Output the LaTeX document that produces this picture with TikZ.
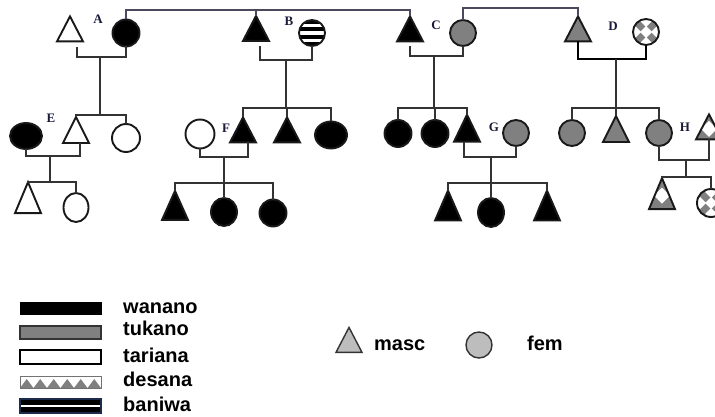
\documentclass[tikz,border=0pt]{standalone}
\usepackage{fontspec}
\setmainfont{Liberation Sans}
\newfontfamily\lblfont{Liberation Serif}
\usetikzlibrary{shapes.geometric,calc}
\definecolor{tukgray}{HTML}{808080}
\definecolor{lightg}{HTML}{BDBDBD}
\definecolor{lncol}{HTML}{333333}
\definecolor{topln}{HTML}{4A4A5C}
\definecolor{labcol}{HTML}{1A1A3A}
\definecolor{banblue}{HTML}{1C2B4A}
\begin{document}
\begin{tikzpicture}[x=1pt,y=-1pt,
  ln/.style={draw=lncol, line width=1.8pt},
  topl/.style={draw=topln, line width=1.8pt},
  sym/.style={draw=black!90, line width=1.9pt, inner sep=0pt, outer sep=0pt},
  fem/.style={sym, circle, minimum size=26pt},
  ell/.style={sym, ellipse},
  masc/.style={sym, isosceles triangle, isosceles triangle stretches,
    shape border rotate=90, minimum width=26pt, minimum height=#1},
  masc/.default=25pt,
  wan/.style={fill=black},
  tuk/.style={fill=tukgray},
  tar/.style={fill=white},
  desf/.style={fill=white, path picture={
    \fill[tukgray] (path picture bounding box.south west) rectangle (path picture bounding box.north east);
    \foreach \dx/\dy in {0/0,11/0,-11/0,0/11,0/-11}{
      \fill[white] ($(path picture bounding box.center)+(\dx pt,\dy pt)$)
        +(0pt,6pt) -- +(6pt,0pt) -- +(0pt,-6pt) -- +(-6pt,0pt) -- cycle;}}},
  desm/.style={fill=white, path picture={
    \fill[tukgray] (path picture bounding box.south west) rectangle (path picture bounding box.north east);
    \fill[white] ($(path picture bounding box.center)+(0pt,-2pt)$)
        +(0pt,8pt) -- +(8pt,0pt) -- +(0pt,-8pt) -- +(-8pt,0pt) -- cycle;}},
  ban/.style={fill=black, path picture={
    \foreach \s in {-7.4,0,7.4}{
      \fill[white] ($(path picture bounding box.center)+(-16pt,\s pt-1.85pt)$) rectangle ++(32pt,3.7pt);}}},
  lab/.style={font=\lblfont\bfseries\fontsize{13}{15}\selectfont, text=labcol, inner sep=0pt},
  bar/.style={minimum width=81pt, inner sep=0pt, outer sep=0pt},
  leg/.style={font=\bfseries\fontsize{20}{24}\selectfont, inner sep=0pt, anchor=base west},
]
\useasboundingbox (0,0) rectangle (715,417);

% ---------- first generation ----------
\node[masc,tar] (ah) at (70,33.5) {};
\node[fem,wan,minimum size=27pt] (a) at (126,33) {};
\node[masc,wan] (b) at (256,33) {};
\node[fem,ban] (bw) at (312,33) {};
\node[masc,wan] (c) at (410,33.5) {};
\node[fem,tuk] (cw) at (463,33) {};
\node[masc,tuk] (d) at (578,33.5) {};
\node[fem,desf] (dw) at (646,32) {};

\node[lab] (la) at (98,19) {A};
\node[lab] (lb) at (289,21) {B};
\node[lab] (lc) at (436,25) {C};
\node[lab] (ld) at (613,26) {D};

% sibling links between the couples
\coordinate (t1) at (0,10);
\coordinate (t2) at (0,8);
\draw[topl] (a.north) -- (a.north |- t1) -- (c.apex |- t1) -- (c.apex);
\draw[topl] (b.apex) -- (b.apex |- t1);
\draw[topl] (cw.north) -- (cw.north |- t2) -- (d.apex |- t2) -- (d.apex);

% ---------- second generation ----------
\node[ell,wan,minimum width=32pt,minimum height=26pt] (e) at (26,136) {};
\node[masc=26pt,tar] (eh) at (76,135) {};
\node[fem,tar,minimum size=28pt] (aw) at (126,138) {};
\node[fem,tar,minimum size=29pt] (fw) at (200,134) {};
\node[masc,wan] (f) at (243,134.5) {};
\node[masc,wan] (b2) at (287,134.5) {};
\node[ell,wan,minimum width=32pt,minimum height=27pt] (b3) at (331,135) {};
\node[fem,wan,minimum size=27pt] (c1) at (398,133.5) {};
\node[fem,wan,minimum size=27pt] (c2) at (435,133.5) {};
\node[masc=27pt,wan] (g) at (467,133.5) {};
\node[fem,tuk] (gw) at (516,133) {};
\node[fem,tuk] (d1) at (572,133) {};
\node[masc=26pt,tuk] (d2) at (616,134) {};
\node[fem,tuk] (h) at (659,133) {};
\node[masc,desm] (hh) at (709,131.5) {};

\node[lab] (le) at (51,118) {E};
\node[lab] (lf) at (226,128) {F};
\node[lab] (lg) at (494,127) {G};
\node[lab] (lh) at (685,127) {H};

% couple A and their children
\coordinate (ka) at (100,57);
\coordinate (sa) at (100,115);
\draw[ln] ($(ah.south)+(7,6)$) |- (ka) -| (a.south);
\draw[ln] (ka) -- (sa);
\draw[ln] (eh.apex) |- (sa) -| (aw.north);

% couple B and their children
\coordinate (kb) at (286,60);
\coordinate (sb) at (286,108);
\draw[ln] ($(b.south)+(4,5)$) |- (kb) -| (bw.south);
\draw[ln] (kb) -- (sb);
\draw[ln] (f.apex) |- (sb) -| (b3.north);
\draw[ln] (b2.apex) -- (b2.apex |- sb);

% couple C and their children
\coordinate (kc) at (434,56);
\coordinate (sc) at (434,108);
\draw[ln] ($(c.south)+(0,5)$) |- (kc) -| (cw.south);
\draw[ln] (kc) -- (sc);
\draw[ln] (c1.north) |- (sc) -| (g.apex);
\draw[ln] (c2.north) -- (c2.north |- sc);

% couple D and their children
\coordinate (kd) at (616,59);
\coordinate (sd) at (616,108);
\draw[ln, draw=black, line width=2.6pt] (d.south) |- (kd) -| (dw.south);
\draw[ln] (kd) -- (sd);
\draw[ln] (d1.north) |- (sd) -| (h.north);
\draw[ln] (d2.apex) -- (d2.apex |- sd);

% ---------- third generation ----------
\node[masc=31pt,tar] (e1) at (28,204.5) {};
\node[ell,tar,minimum width=25pt,minimum height=29pt] (e2) at (76,207.5) {};
\node[masc=29pt,wan] (f1) at (175,211.5) {};
\node[ell,wan,minimum width=26pt,minimum height=28pt] (f2) at (224,212) {};
\node[ell,wan,minimum width=27pt,minimum height=27pt] (f3) at (273,213) {};
\node[masc=30pt,wan] (g1) at (448,212) {};
\node[ell,wan,minimum width=26pt,minimum height=29pt] (g2) at (491,212.5) {};
\node[masc=30pt,wan] (g3) at (547,212) {};
\node[masc=31pt,desm] (h1) at (662,200.5) {};
\node[fem,desf,minimum size=28pt] (h2) at (711,203) {};

% couple E
\coordinate (ke) at (50,156);
\coordinate (se) at (50,182);
\draw[ln] (e.south) |- (ke) -| ($(eh.south)+(4,0)$);
\draw[ln] (ke) -- (se);
\draw[ln] (e1.apex) |- (se) -| (e2.north);

% couple F
\coordinate (kf) at (224,157);
\coordinate (sf) at (224,183);
\draw[ln] (fw.south) |- (kf) -| ($(f.south)+(5,0)$);
\draw[ln] (kf) -- (sf);
\draw[ln] (f1.apex) |- (sf) -| (f3.north);
\draw[ln] (f2.north) -- (f2.north |- sf);

% couple G
\coordinate (kg) at (491,157);
\coordinate (sg) at (491,183);
\draw[ln] ($(g.south)+(-3,0)$) |- (kg) -| (gw.south);
\draw[ln] (kg) -- (sg);
\draw[ln] (g1.apex) |- (sg) -| (g3.apex);
\draw[ln] (g2.north) -- (g2.north |- sg);

% couple H
\coordinate (kh) at (686,160);
\coordinate (sh) at (686,177);
\draw[ln] (h.south) |- (kh) -| (hh.south);
\draw[ln] (kh) -- (sh);
\draw[ln] (h1.apex) |- (sh) -| (h2.north);

% ---------- legend ----------
\node[bar, fill=black, draw=black, line width=1pt, minimum height=12pt] (kwan) at (60.5,308) {};
\node[bar, fill=tukgray, draw=black!80, line width=1.5pt, minimum height=13pt] (ktuk) at (60.5,332.5) {};
\node[bar, fill=white, draw=black, line width=2pt, minimum height=14pt] (ktar) at (60.5,356.5) {};
\node[bar, fill=white, minimum height=12pt, path picture={
    \foreach \i in {0,...,5}{
      \fill[tukgray] ($(path picture bounding box.south west)+(\i*13.5pt,0pt)$)
        -- ++(13.5pt,0pt) -- ++(-6.75pt,9pt) -- cycle;}
    \draw[black!75, line width=1.4pt] (path picture bounding box.north west) -- (path picture bounding box.north east);
  }, draw=black!55, line width=0.8pt] (kdes) at (60.5,382) {};
\node[bar, fill=black, draw=banblue, line width=1.3pt, minimum height=14pt, path picture={
    \fill[white] ($(path picture bounding box.west)+(0pt,-1.3pt)$) rectangle ($(path picture bounding box.east)+(0pt,1.3pt)$);
  }] (kban) at (60.5,406) {};

\node[leg] (twan) at (123,313) {wanano};
\node[leg] (ttuk) at (123,335) {tukano};
\node[leg] (ttar) at (123,362) {tariana};
\node[leg] (tdes) at (123,386) {desana};
\node[leg] (tban) at (123,411) {baniwa};

\node[masc, fill=lightg, draw=black!80, line width=1.4pt] (kmasc) at (349,344.5) {};
\node[fem, fill=lightg, draw=black!80, line width=1.4pt] (kfem) at (479,345) {};
\node[leg] (tmasc) at (374,350) {masc};
\node[leg] (tfem) at (527,350) {fem};
\end{tikzpicture}
\end{document}
